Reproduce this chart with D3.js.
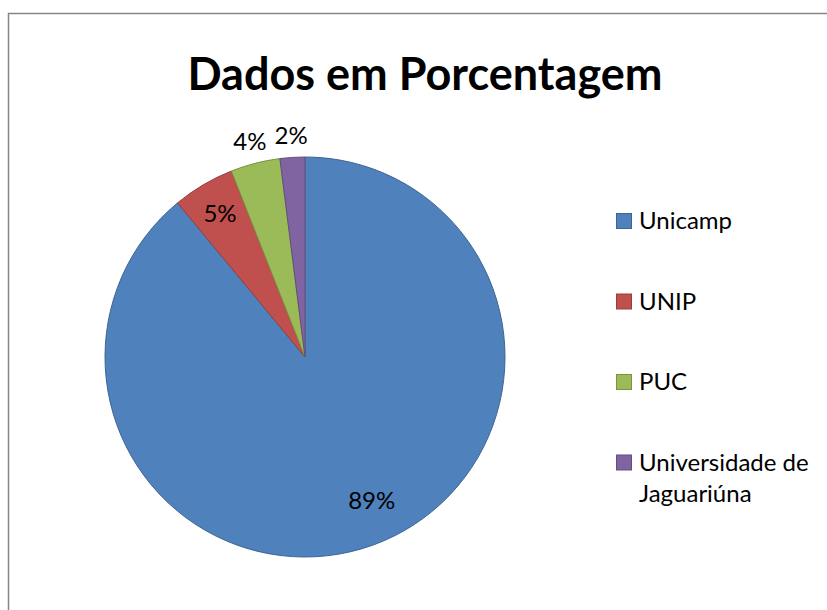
<!DOCTYPE html>
<html lang="pt">
<head>
<meta charset="UTF-8">
<title>Dados em Porcentagem</title>
<style>
  body { margin: 0; background: #fff; }
  svg { display: block; font-family: Lato, "Open Sans", sans-serif; }
</style>
</head>
<body>
<svg width="827" height="610"></svg>
<script src="https://d3js.org/d3.v7.min.js"></script>
<script>
  // data
  const categories = ['Unicamp', 'UNIP', 'PUC', 'Universidade de Jaguariúna'];
  const values = [89, 5, 4, 2];
  const colors = ['#4F81BD', '#C0504D', '#9BBB59', '#8064A2'];
  const legendLines = [['Unicamp'], ['UNIP'], ['PUC'], ['Universidade de', 'Jaguariúna']];
  const title = 'Dados em Porcentagem';

  const svg = d3.select('svg');

  // chart frame (runs off the right and bottom of the window)
  svg.append('rect')
    .attr('x', 8.5).attr('y', 13.5)
    .attr('width', 840).attr('height', 640)
    .attr('fill', '#fff')
    .attr('stroke', '#878787')
    .attr('stroke-width', 1.5);

  svg.append('text')
    .attr('x', 425).attr('y', 90)
    .attr('text-anchor', 'middle')
    .attr('font-size', 45)
    .attr('font-weight', 'bold')
    .text(title);

  const cx = 305, cy = 357, r = 200;
  const g = svg.append('g').attr('transform', `translate(${cx},${cy})`);

  const data = categories.map((c, i) => ({ name: c, value: values[i], color: colors[i] }));
  const total = d3.sum(values);
  const pie = d3.pie().value(d => d.value).sort(null);
  const arc = d3.arc().innerRadius(0).outerRadius(r);
  const arcs = pie(data);

  g.selectAll('path').data(arcs).join('path')
    .attr('d', arc)
    .attr('fill', d => d.data.color)
    .attr('stroke', d => d3.color(d.data.color).darker(0.7))
    .attr('stroke-width', 1);

  // labels: big slices inside, thin ones just outside the rim
  // (excel's "best fit" nudges the big one a bit toward the right)
  const fmt = d3.format('.0%');
  g.selectAll('text.lbl').data(arcs).join('text')
    .attr('class', 'lbl')
    .attr('text-anchor', 'middle')
    .attr('dy', '0.35em')
    .attr('font-size', 24)
    .attr('transform', d => {
      const share = d.data.value / total;
      let a = (d.startAngle + d.endAngle) / 2;
      let rr = r * 0.835;
      if (share < 0.045) rr = r + 22;
      if (share > 0.5) { rr = r * 0.79; a -= 0.09; }
      return `translate(${Math.sin(a) * rr},${-Math.cos(a) * rr})`;
    })
    .text(d => fmt(d.data.value / total));

  // legend
  const legend = svg.append('g').attr('transform', 'translate(616,213)');
  const item = legend.selectAll('g').data(data).join('g')
    .attr('transform', (d, i) => `translate(0,${i * 80.5})`);
  item.append('rect')
    .attr('x', 0.5).attr('y', 0.5)
    .attr('width', 15).attr('height', 15)
    .attr('fill', d => d.color)
    .attr('stroke', d => d3.color(d.color).darker(0.7));
  item.append('text')
    .attr('x', 23).attr('y', 16)
    .attr('font-size', 24)
    .selectAll('tspan').data((d, i) => legendLines[i]).join('tspan')
    .attr('x', 23)
    .attr('dy', (d, j) => j ? 31 : 0)
    .text(d => d);
</script>
</body>
</html>
